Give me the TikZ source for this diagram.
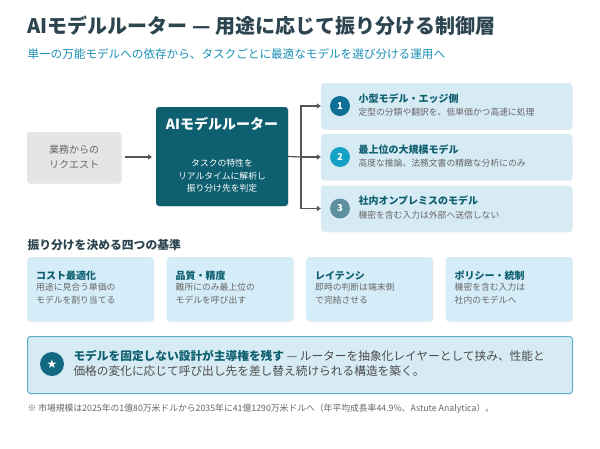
\documentclass[tikz,border=0pt]{standalone}
\usepackage{fontspec}
\setmainfont{Noto Sans CJK JP}
\newfontfamily\djv{DejaVu Sans}
\usetikzlibrary{arrows.meta,shadows}
\definecolor{ttl}{HTML}{2D4550}
\definecolor{sub}{HTML}{1A8FB5}
\definecolor{router}{HTML}{0E5F70}
\definecolor{rbox}{HTML}{D7EBF5}
\definecolor{card}{HTML}{D5EDF8}
\definecolor{dk}{HTML}{0E5F70}
\definecolor{txt}{HTML}{666666}
\definecolor{arr}{HTML}{555555}
\begin{document}
\begin{tikzpicture}[x=1pt,y=-1pt,
  box/.style={rounded corners=3pt,drop shadow={shadow xshift=0.6pt,shadow yshift=-0.8pt,opacity=0.15}},
  ttxt/.style={anchor=west,font=\bfseries\fontsize{10}{11}\selectfont,text=dk},
  dtxt/.style={anchor=west,font=\fontsize{8.8}{10}\selectfont,text=txt},
  ctxt/.style={anchor=north west,align=left,font=\fontsize{8.8}{12.5}\selectfont,text=txt,inner sep=0pt},
  num/.style={circle,minimum size=20pt,inner sep=0pt,text=white,font=\bfseries\fontsize{9.5}{10}\selectfont},
  ar/.style={draw=arr,line width=1.2pt,-{Triangle[length=4pt,width=5pt]}}]
\useasboundingbox (0,0) rectangle (600,448);
\fill[white] (0,0) rectangle (600,448);
\node[anchor=west,font=\bfseries\fontsize{20}{22}\selectfont,text=ttl] (title) at (24,26) {AIモデルルーター — 用途に応じて振り分ける制御層};
\node[anchor=west,font=\fontsize{11.6}{13}\selectfont,text=sub] (subt) at (24,54) {単一の万能モデルへの依存から、タスクごとに最適なモデルを選び分ける運用へ};
% request
\node[box,fill=black!10,minimum width=94pt,minimum height=51pt,align=center,text=black!60,font=\fontsize{10}{15}\selectfont] (req) at (74,157.5) {業務からの\\リクエスト};
% router
\node[box,fill=router,minimum width=132pt,minimum height=99pt] (rt) at (222,156.5) {};
\node[font=\bfseries\fontsize{14}{16}\selectfont,text=white] (rtt) at (222,124) {AIモデルルーター};
\node[align=center,font=\fontsize{8.8}{12.5}\selectfont,text=white] (rtd) at (222,176) {タスクの特性を\\リアルタイムに解析し\\振り分け先を判定};
\coordinate (q1) at (125,157);
\draw[ar] (q1) -- (152,157);
% right boxes
\foreach \n/\y/\c/\t/\d in {1/106/0E6E95/小型モデル・エッジ側/定型の分類や翻訳を、低単価かつ高速に処理,
  2/157/14A3C7/最上位の大規模モデル/高度な推論、法務文書の精緻な分析にのみ,
  3/208.5/5F90A0/社内オンプレミスのモデル/機密を含む入力は外部へ送信しない}{
  \node[box,fill=rbox,minimum width=251pt,minimum height=46pt] (r\n) at (446.5,\y) {};
  \definecolor{cc}{HTML}{\c}
  \node[num,fill=cc] (c\n) at (340,\y) {\n};
  \node[ttxt] (rt\n) at (355,\y-7.5) {\t};
  \node[dtxt] (rd\n) at (355,\y+6.5) {\d};
}
\coordinate (br) at (301,157);
\draw[draw=arr,line width=1.2pt] (rt.east) -- (br);
\draw[draw=arr,line width=1.2pt] (301,105) -- (301,208.5);
\draw[ar] (301,106) -- (r1.west);
\draw[ar] (br) -- (r2.west);
\draw[ar] (301,208.5) -- (r3.west);
% criteria
\node[anchor=west,font=\bfseries\fontsize{11.8}{13}\selectfont,text=ttl] (crit) at (24,245) {振り分けを決める四つの基準};
\foreach \i/\x/\t/\a/\b in {1/27/コスト最適化/用途に見合う単価の/モデルを割り当てる,
  2/166.5/品質・精度/難所にのみ最上位の/モデルを呼び出す,
  3/306/レイテンシ/即時の判断は端末側/で完結させる,
  4/445.5/ポリシー・統制/機密を含む入力は/社内のモデルへ}{
  \node[box,fill=card,anchor=north west,minimum width=126.5pt,minimum height=64pt] (k\i) at (\x,257) {};
  \node[ttxt] (kt\i) at (\x+5.5,276) {\t};
  \node[ctxt] (kd\i) at (\x+9,283) {\a\\\b};
}
% bottom
\node[box,fill=rbox,draw=sub!70,line width=1pt,anchor=north west,minimum width=545pt,minimum height=57pt] (bot) at (27,336) {};
\node[circle,fill=dk!80!sub,minimum size=24pt,inner sep=0pt,text=white,font=\djv\fontsize{12}{12}\selectfont] (star) at (52,364) {★};
\node[anchor=west,align=left,font=\fontsize{11.7}{14.5}\selectfont,text=black!70] (bt) at (70,363.5) {{\bfseries\color{dk}モデルを固定しない設計が主導権を残す} — ルーターを抽象化レイヤーとして挟み、性能と\\価格の変化に応じて呼び出し先を差し替え続けられる構造を築く。};
\node[anchor=west,font=\fontsize{8.8}{10}\selectfont,text=black!60] (fn) at (24,409) {※ 市場規模は2025年の1億80万米ドルから2035年に41億1290万米ドルへ（年平均成長率44.9\%、Astute Analytica）。};
\end{tikzpicture}
\end{document}
